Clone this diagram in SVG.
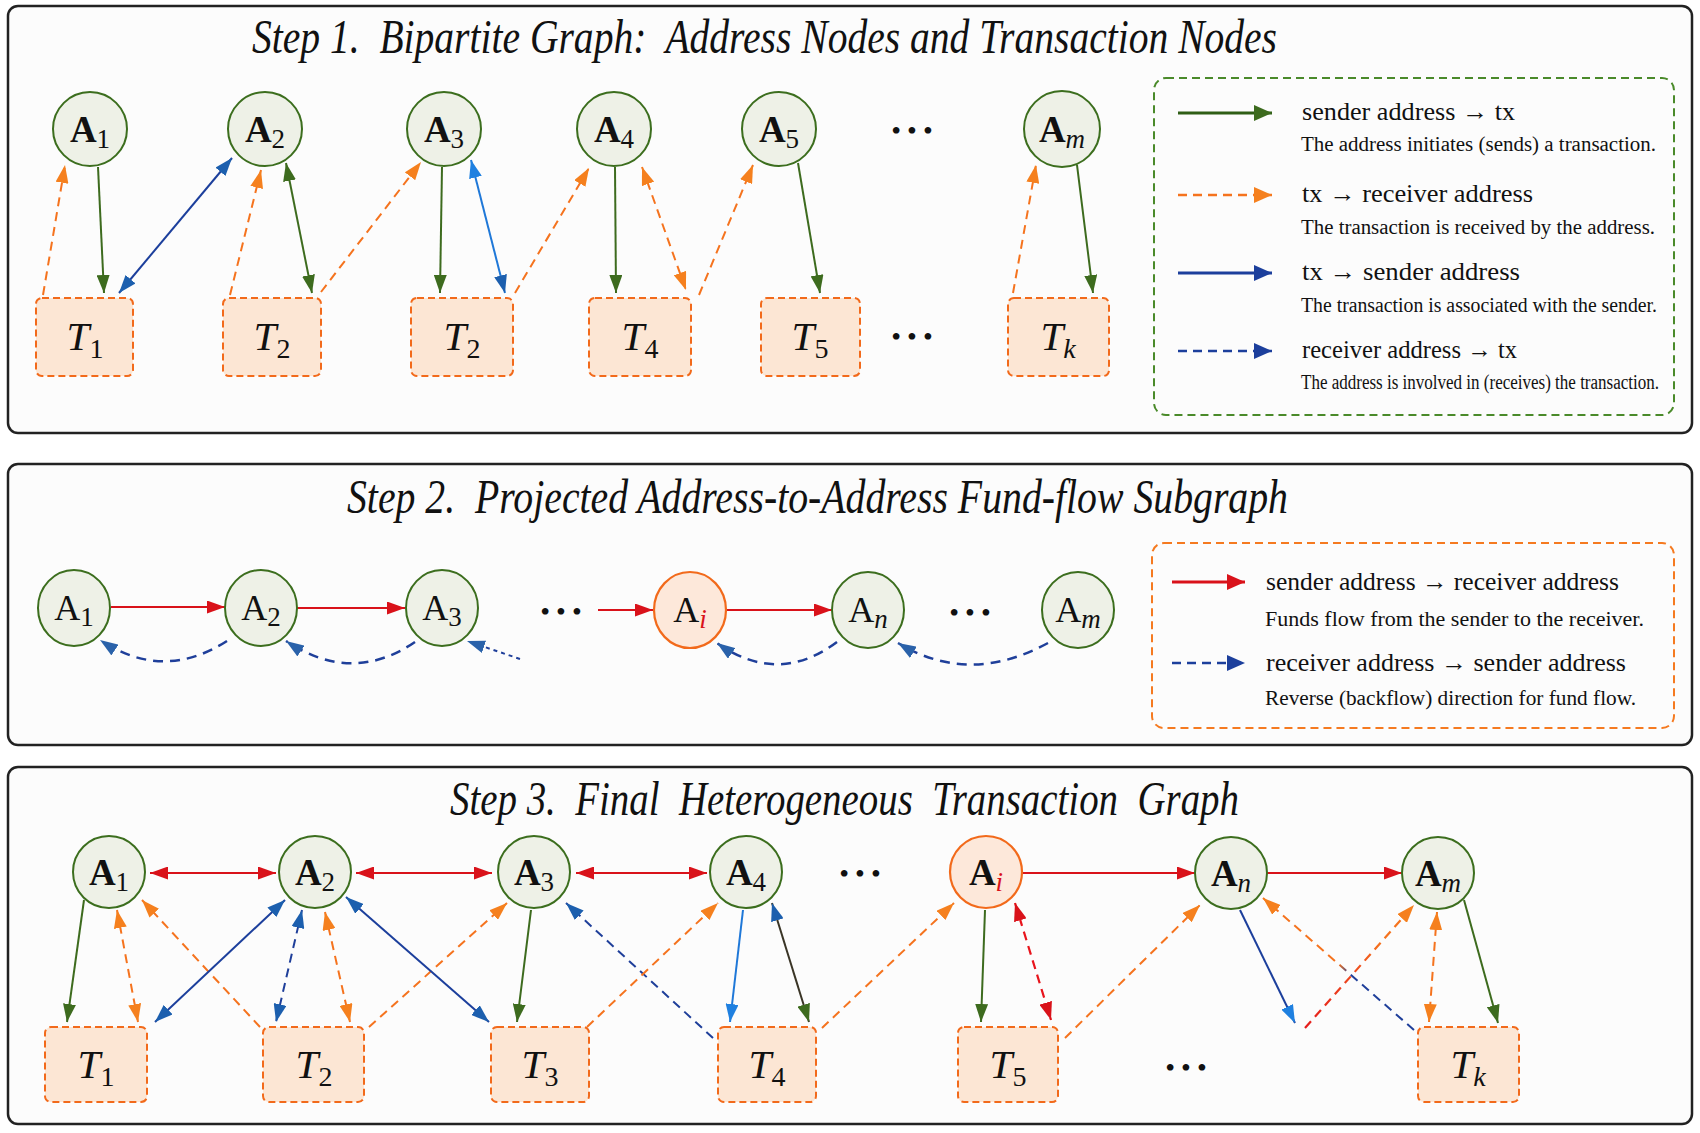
<svg xmlns="http://www.w3.org/2000/svg" width="1700" height="1133" viewBox="0 0 1700 1133">
<style>
.panel{fill:#fcfcfc;stroke:#222;stroke-width:2.5}
.title{font-family:"Liberation Serif","Times New Roman",serif;font-style:italic;font-size:48px;fill:#111}
.an{fill:#eef1e7;stroke:#3c6e1e;stroke-width:2}
.ai{fill:#fde8da;stroke:#f26a1b;stroke-width:2.2}
.tx{fill:#fce6d4;stroke:#f26a1b;stroke-width:2;stroke-dasharray:7,4}
.al{font-family:"Liberation Serif","Times New Roman",serif;font-size:37px;font-weight:bold;fill:#111}
.al2{font-family:"Liberation Serif","Times New Roman",serif;font-size:36px;fill:#111}
.sub{font-size:27px;font-weight:normal}
.tl{font-family:"Liberation Serif","Times New Roman",serif;font-size:41px;font-style:italic;fill:#111}
.tsub{font-size:28px;font-style:normal}
.it{font-style:italic}
.dots{font-family:"Liberation Serif","Times New Roman",serif;font-size:28px;letter-spacing:6px;fill:#111}
.lg{font-family:"Liberation Serif","Times New Roman",serif;font-size:25px;fill:#111}
.ld{font-family:"Liberation Serif","Times New Roman",serif;font-size:20px;fill:#111}
.g{stroke:#3d6b1e;stroke-width:2;fill:none}
.o{stroke:#f5731e;stroke-width:2;stroke-dasharray:9,6;fill:none}
.b{stroke:#1c3f9c;stroke-width:2;fill:none}
.lb{stroke:#1f78d8;stroke-width:2;fill:none}
.bd{stroke:#1f3f9a;stroke-width:2;stroke-dasharray:9,6;fill:none}
.r{stroke:#d9121a;stroke-width:2.2;fill:none}
.rd{stroke:#e8141c;stroke-width:2.2;stroke-dasharray:9,6;fill:none}
.bc{stroke:#1f3f9a;stroke-width:2.5;stroke-dasharray:10,7;fill:none}
</style>
<defs>
<marker id="ag" viewBox="0 0 18 13" refX="18" refY="6.5" markerWidth="18" markerHeight="13" markerUnits="userSpaceOnUse" orient="auto-start-reverse"><path d="M0,0 L18,6.5 L0,13 z" fill="#3d6b1e"/></marker>
<marker id="ao" viewBox="0 0 18 13" refX="18" refY="6.5" markerWidth="18" markerHeight="13" markerUnits="userSpaceOnUse" orient="auto-start-reverse"><path d="M0,0 L18,6.5 L0,13 z" fill="#f5801e"/></marker>
<marker id="ab" viewBox="0 0 18 13" refX="18" refY="6.5" markerWidth="18" markerHeight="13" markerUnits="userSpaceOnUse" orient="auto-start-reverse"><path d="M0,0 L18,6.5 L0,13 z" fill="#1c5fae"/></marker>
<marker id="alb" viewBox="0 0 18 13" refX="18" refY="6.5" markerWidth="18" markerHeight="13" markerUnits="userSpaceOnUse" orient="auto-start-reverse"><path d="M0,0 L18,6.5 L0,13 z" fill="#1f80e0"/></marker>
<marker id="ar" viewBox="0 0 18 13" refX="18" refY="6.5" markerWidth="18" markerHeight="13" markerUnits="userSpaceOnUse" orient="auto-start-reverse"><path d="M0,0 L18,6.5 L0,13 z" fill="#d9121a"/></marker>
<marker id="abc" viewBox="0 0 18 13" refX="18" refY="6.5" markerWidth="18" markerHeight="13" markerUnits="userSpaceOnUse" orient="auto-start-reverse"><path d="M0,0 L18,6.5 L0,13 z" fill="#2a62aa"/></marker>
<marker id="lgg" viewBox="0 0 18 16" refX="18" refY="8" markerWidth="18" markerHeight="16" markerUnits="userSpaceOnUse" orient="auto"><path d="M0,0 L18,8 L0,16 z" fill="#3d6b1e"/></marker>
<marker id="lgo" viewBox="0 0 18 16" refX="18" refY="8" markerWidth="18" markerHeight="16" markerUnits="userSpaceOnUse" orient="auto"><path d="M0,0 L18,8 L0,16 z" fill="#f5801e"/></marker>
<marker id="lgb" viewBox="0 0 18 16" refX="18" refY="8" markerWidth="18" markerHeight="16" markerUnits="userSpaceOnUse" orient="auto"><path d="M0,0 L18,8 L0,16 z" fill="#1c3f9c"/></marker>
<marker id="lgr" viewBox="0 0 18 16" refX="18" refY="8" markerWidth="18" markerHeight="16" markerUnits="userSpaceOnUse" orient="auto"><path d="M0,0 L18,8 L0,16 z" fill="#d9121a"/></marker>
<linearGradient id="gro" gradientUnits="userSpaceOnUse" x1="1305" y1="1028" x2="1414" y2="905"><stop offset="0" stop-color="#e51c1c"/><stop offset="0.45" stop-color="#ee4a1e"/><stop offset="0.7" stop-color="#f5731e"/></linearGradient>
<linearGradient id="gbo" gradientUnits="userSpaceOnUse" x1="1414" y1="1030" x2="1263" y2="898"><stop offset="0" stop-color="#1f3f9a"/><stop offset="0.42" stop-color="#1f3f9a"/><stop offset="0.5" stop-color="#f5731e"/><stop offset="1" stop-color="#f5731e"/></linearGradient>
</defs>
<rect width="1700" height="1133" fill="#ffffff"/>

<!-- Panels -->
<rect class="panel" x="8" y="6" width="1684" height="427" rx="10"/>
<rect class="panel" x="8" y="464" width="1684" height="281" rx="10"/>
<rect class="panel" x="8" y="767" width="1684" height="357" rx="10"/>

<text class="title" x="252" y="53" textLength="1025" lengthAdjust="spacingAndGlyphs" xml:space="preserve">Step 1.  Bipartite Graph:  Address Nodes and Transaction Nodes</text>
<text class="title" x="347" y="513" textLength="941" lengthAdjust="spacingAndGlyphs" xml:space="preserve">Step 2.  Projected Address-to-Address Fund-flow Subgraph</text>
<text class="title" x="450" y="815" textLength="789" lengthAdjust="spacingAndGlyphs" xml:space="preserve">Step 3.  Final  Heterogeneous  Transaction  Graph</text>

<!-- ===== Step 1 connectors ===== -->
<g id="connectors-step1">
<path class="g" d="M98,167 L104,293" marker-end="url(#ag)"/>
<path class="o" d="M43,295 L65,165" marker-end="url(#ao)"/>
<path class="b" d="M119,293 L232,158" marker-start="url(#ab)" marker-end="url(#ab)"/>
<path class="o" d="M230,295 L261,170" marker-end="url(#ao)"/>
<path class="g" d="M286,163 L312,293" marker-start="url(#ag)" marker-end="url(#ag)"/>
<path class="o" d="M321,292 L421,162" marker-end="url(#ao)"/>
<path class="g" d="M442,167 L440,293" marker-end="url(#ag)"/>
<path class="lb" d="M471,160 L505,293" marker-start="url(#alb)" marker-end="url(#ab)"/>
<path class="o" d="M515,293 L589,168" marker-end="url(#ao)"/>
<path class="g" d="M615,167 L616,293" marker-end="url(#ag)"/>
<path class="o" d="M642,167 L686,290" marker-start="url(#ao)" marker-end="url(#ao)"/>
<path class="o" d="M699,295 L753,165" marker-end="url(#ao)"/>
<path class="g" d="M798,163 L820,293" marker-end="url(#ag)"/>
<path class="o" d="M1013,293 L1036,165" marker-end="url(#ao)"/>
<path class="g" d="M1077,165 L1093,293" marker-end="url(#ag)"/>
</g>

<!-- ===== Step 1 nodes ===== -->
<g id="s1-A1"><circle class="an" cx="90" cy="129" r="37"/><text class="al" x="90" y="142" text-anchor="middle">A<tspan class="sub" dy="6">1</tspan></text></g>
<g id="s1-A2"><circle class="an" cx="265" cy="129" r="37"/><text class="al" x="265" y="142" text-anchor="middle">A<tspan class="sub" dy="6">2</tspan></text></g>
<g id="s1-A3"><circle class="an" cx="444" cy="129" r="37"/><text class="al" x="444" y="142" text-anchor="middle">A<tspan class="sub" dy="6">3</tspan></text></g>
<g id="s1-A4"><circle class="an" cx="614" cy="129" r="37"/><text class="al" x="614" y="142" text-anchor="middle">A<tspan class="sub" dy="6">4</tspan></text></g>
<g id="s1-A5"><circle class="an" cx="779" cy="129" r="37"/><text class="al" x="779" y="142" text-anchor="middle">A<tspan class="sub" dy="6">5</tspan></text></g>
<g id="s1-Am"><circle class="an" cx="1062" cy="129" r="38"/><text class="al" x="1062" y="142" text-anchor="middle">A<tspan class="sub it" dy="6">m</tspan></text></g>
<text class="dots" x="915" y="140" text-anchor="middle">•••</text>

<g id="s1-T1"><rect class="tx" x="36" y="298" width="97" height="78" rx="6"/><text class="tl" x="85" y="350" text-anchor="middle">T<tspan class="tsub" dy="8">1</tspan></text></g>
<g id="s1-T2"><rect class="tx" x="223" y="298" width="98" height="78" rx="6"/><text class="tl" x="272" y="350" text-anchor="middle">T<tspan class="tsub" dy="8">2</tspan></text></g>
<g id="s1-T2b"><rect class="tx" x="411" y="298" width="102" height="78" rx="6"/><text class="tl" x="462" y="350" text-anchor="middle">T<tspan class="tsub" dy="8">2</tspan></text></g>
<g id="s1-T4"><rect class="tx" x="589" y="298" width="102" height="78" rx="6"/><text class="tl" x="640" y="350" text-anchor="middle">T<tspan class="tsub" dy="8">4</tspan></text></g>
<g id="s1-T5"><rect class="tx" x="761" y="298" width="99" height="78" rx="6"/><text class="tl" x="810" y="350" text-anchor="middle">T<tspan class="tsub" dy="8">5</tspan></text></g>
<g id="s1-Tk"><rect class="tx" x="1008" y="298" width="101" height="78" rx="6"/><text class="tl" x="1058" y="350" text-anchor="middle">T<tspan class="tsub it" dy="8">k</tspan></text></g>
<text class="dots" x="915" y="346" text-anchor="middle">•••</text>

<!-- Legend 1 -->
<g id="legend1">
<rect x="1154" y="78" width="520" height="337" rx="12" fill="none" stroke="#4a8a2a" stroke-width="2" stroke-dasharray="8,5"/>
<path d="M1178,113 L1272,113" stroke="#2f5e16" stroke-width="3" marker-end="url(#lgg)"/>
<text class="lg" x="1302" y="120" textLength="213" lengthAdjust="spacingAndGlyphs">sender address → tx</text>
<text class="ld" x="1301" y="151" textLength="355" lengthAdjust="spacingAndGlyphs">The address initiates (sends) a transaction.</text>
<path d="M1178,195 L1272,195" stroke="#f5731e" stroke-width="2.5" stroke-dasharray="9,6" marker-end="url(#lgo)"/>
<text class="lg" x="1302" y="202" textLength="231" lengthAdjust="spacingAndGlyphs">tx → receiver address</text>
<text class="ld" x="1301" y="234" textLength="354" lengthAdjust="spacingAndGlyphs">The transaction is received by the address.</text>
<path d="M1178,273 L1272,273" stroke="#1c3f9c" stroke-width="3" marker-end="url(#lgb)"/>
<text class="lg" x="1302" y="280" textLength="218" lengthAdjust="spacingAndGlyphs">tx → sender address</text>
<text class="ld" x="1301" y="312" textLength="356" lengthAdjust="spacingAndGlyphs">The transaction is associated with the sender.</text>
<path d="M1178,351 L1272,351" stroke="#1c3f9c" stroke-width="2.5" stroke-dasharray="9,6" marker-end="url(#lgb)"/>
<text class="lg" x="1302" y="358" textLength="215" lengthAdjust="spacingAndGlyphs">receiver address → tx</text>
<text class="ld" x="1301" y="389" font-size="17" textLength="358" lengthAdjust="spacingAndGlyphs">The address is involved in (receives) the transaction.</text>
</g>

<!-- ===== Step 2 connectors ===== -->
<g id="connectors-step2">
<path class="r" d="M111,607 L225,607" marker-end="url(#ar)"/>
<path class="r" d="M297,608 L405,608" marker-end="url(#ar)"/>
<path class="r" d="M598,610 L653,610" marker-end="url(#ar)"/>
<path class="r" d="M726,610 L832,610" marker-end="url(#ar)"/>
<path class="bc" d="M227,641 Q163,682 100,640" marker-end="url(#abc)"/>
<path class="bc" d="M415,642 Q352,685 286,641" marker-end="url(#abc)"/>
<path d="M520,659 L467,641" stroke="#1f3f9a" stroke-width="2" stroke-dasharray="4,4" fill="none" marker-end="url(#abc)"/>
<path class="bc" d="M837,642 Q778,686 717,643" marker-end="url(#abc)"/>
<path class="bc" d="M1048,643 Q969,686 898,643" marker-end="url(#abc)"/>
</g>

<!-- ===== Step 2 nodes ===== -->
<g id="s2-A1"><ellipse class="an" cx="74" cy="608" rx="36" ry="38"/><text class="al2" x="74" y="620" text-anchor="middle">A<tspan class="sub" dy="6">1</tspan></text></g>
<g id="s2-A2"><ellipse class="an" cx="261" cy="608" rx="36" ry="38"/><text class="al2" x="261" y="620" text-anchor="middle">A<tspan class="sub" dy="6">2</tspan></text></g>
<g id="s2-A3"><ellipse class="an" cx="442" cy="608" rx="36" ry="38"/><text class="al2" x="442" y="620" text-anchor="middle">A<tspan class="sub" dy="6">3</tspan></text></g>
<g id="s2-Ai"><ellipse class="ai" cx="690" cy="610" rx="36" ry="38"/><text class="al2" x="690" y="622" text-anchor="middle">A<tspan class="sub it" dy="6" fill="#d9121a">i</tspan></text></g>
<g id="s2-An"><ellipse class="an" cx="868" cy="610" rx="36" ry="38"/><text class="al2" x="868" y="622" text-anchor="middle">A<tspan class="sub it" dy="6">n</tspan></text></g>
<g id="s2-Am"><ellipse class="an" cx="1078" cy="610" rx="36" ry="38"/><text class="al2" x="1078" y="622" text-anchor="middle">A<tspan class="sub it" dy="6">m</tspan></text></g>
<text class="dots" x="564" y="621" text-anchor="middle">•••</text>
<text class="dots" x="973" y="622" text-anchor="middle">•••</text>

<!-- Legend 2 -->
<g id="legend2">
<rect x="1152" y="543" width="522" height="185" rx="12" fill="none" stroke="#f57a20" stroke-width="2" stroke-dasharray="8,5"/>
<path d="M1172,582 L1245,582" stroke="#d9121a" stroke-width="3" marker-end="url(#lgr)"/>
<text class="lg" x="1266" y="590" textLength="353" lengthAdjust="spacingAndGlyphs">sender address → receiver address</text>
<text class="ld" x="1265" y="626" textLength="379" lengthAdjust="spacingAndGlyphs">Funds flow from the sender to the receiver.</text>
<path d="M1172,663 L1245,663" stroke="#1c3f9c" stroke-width="2.5" stroke-dasharray="9,6" marker-end="url(#lgb)"/>
<text class="lg" x="1266" y="671" textLength="360" lengthAdjust="spacingAndGlyphs">receiver address → sender address</text>
<text class="ld" x="1265" y="705" textLength="371" lengthAdjust="spacingAndGlyphs">Reverse (backflow) direction for fund flow.</text>
</g>

<!-- ===== Step 3 connectors ===== -->
<g id="connectors-step3">
<path class="r" d="M150,873 L276,873" marker-start="url(#ar)" marker-end="url(#ar)"/>
<path class="r" d="M356,873 L492,873" marker-start="url(#ar)" marker-end="url(#ar)"/>
<path class="r" d="M576,873 L707,873" marker-start="url(#ar)" marker-end="url(#ar)"/>
<path class="r" d="M1022,873 L1195,873" marker-end="url(#ar)"/>
<path class="r" d="M1267,873 L1402,873" marker-end="url(#ar)"/>
<path class="g" d="M84,900 L67,1022" marker-end="url(#ag)"/>
<path class="o" d="M117,910 L138,1022" marker-start="url(#ao)" marker-end="url(#ao)"/>
<path class="o" d="M260,1027 L142,900" marker-end="url(#ao)"/>
<path class="b" d="M155,1022 L285,900" marker-start="url(#ab)" marker-end="url(#ab)"/>
<path class="bd" d="M302,910 L276,1022" marker-start="url(#ab)" marker-end="url(#ab)"/>
<path class="o" d="M325,912 L350,1022" marker-start="url(#ao)" marker-end="url(#ao)"/>
<path class="o" d="M369,1027 L507,903" marker-end="url(#ao)"/>
<path class="b" d="M346,897 L489,1022" marker-start="url(#ab)" marker-end="url(#ab)"/>
<path class="g" d="M531,910 L517,1022" marker-end="url(#ag)"/>
<path class="bd" d="M713,1038 L566,903" marker-end="url(#ab)"/>
<path class="o" d="M587,1027 L718,903" marker-end="url(#ao)"/>
<path class="lb" d="M743,910 L730,1022" marker-end="url(#alb)"/>
<path d="M772,903 L809,1022" stroke="#3a3526" stroke-width="2" fill="none" marker-start="url(#ab)" marker-end="url(#ag)"/>
<path class="o" d="M822,1028 L954,903" marker-end="url(#ao)"/>
<path class="g" d="M985,910 L981,1022" marker-end="url(#ag)"/>
<path class="rd" d="M1015,903 L1051,1020" marker-start="url(#ar)" marker-end="url(#ar)"/>
<path class="o" d="M1065,1038 L1200,905" marker-end="url(#ao)"/>
<path class="b" d="M1240,910 L1295,1023" marker-end="url(#alb)"/>
<path d="M1305,1028 L1414,905" stroke="url(#gro)" stroke-width="2.2" stroke-dasharray="9,6" fill="none" marker-end="url(#ao)"/>
<path d="M1414,1030 L1263,898" stroke="url(#gbo)" stroke-width="2" stroke-dasharray="9,6" fill="none" marker-end="url(#ao)"/>
<path class="o" d="M1437,912 L1429,1022" marker-start="url(#ao)" marker-end="url(#ao)"/>
<path class="g" d="M1464,900 L1498,1023" marker-end="url(#ag)"/>
</g>

<!-- ===== Step 3 nodes ===== -->
<g id="s3-A1"><circle class="an" cx="109" cy="872" r="36"/><text class="al" x="109" y="885" text-anchor="middle">A<tspan class="sub" dy="6">1</tspan></text></g>
<g id="s3-A2"><circle class="an" cx="315" cy="872" r="36"/><text class="al" x="315" y="885" text-anchor="middle">A<tspan class="sub" dy="6">2</tspan></text></g>
<g id="s3-A3"><circle class="an" cx="534" cy="872" r="36"/><text class="al" x="534" y="885" text-anchor="middle">A<tspan class="sub" dy="6">3</tspan></text></g>
<g id="s3-A4"><circle class="an" cx="746" cy="872" r="36"/><text class="al" x="746" y="885" text-anchor="middle">A<tspan class="sub" dy="6">4</tspan></text></g>
<g id="s3-Ai"><circle class="ai" cx="986" cy="872" r="36"/><text class="al" x="986" y="885" text-anchor="middle">A<tspan class="sub it" dy="6" fill="#d9121a">i</tspan></text></g>
<g id="s3-An"><circle class="an" cx="1231" cy="873" r="36"/><text class="al" x="1231" y="886" text-anchor="middle">A<tspan class="sub it" dy="6">n</tspan></text></g>
<g id="s3-Am"><circle class="an" cx="1438" cy="873" r="36"/><text class="al" x="1438" y="886" text-anchor="middle">A<tspan class="sub it" dy="6">m</tspan></text></g>
<text class="dots" x="863" y="883" text-anchor="middle">•••</text>

<g id="s3-T1"><rect class="tx" x="45" y="1027" width="102" height="75" rx="6"/><text class="tl" x="96" y="1078" text-anchor="middle">T<tspan class="tsub" dy="8">1</tspan></text></g>
<g id="s3-T2"><rect class="tx" x="263" y="1027" width="101" height="75" rx="6"/><text class="tl" x="314" y="1078" text-anchor="middle">T<tspan class="tsub" dy="8">2</tspan></text></g>
<g id="s3-T3"><rect class="tx" x="491" y="1027" width="98" height="75" rx="6"/><text class="tl" x="540" y="1078" text-anchor="middle">T<tspan class="tsub" dy="8">3</tspan></text></g>
<g id="s3-T4"><rect class="tx" x="718" y="1027" width="98" height="75" rx="6"/><text class="tl" x="767" y="1078" text-anchor="middle">T<tspan class="tsub" dy="8">4</tspan></text></g>
<g id="s3-T5"><rect class="tx" x="958" y="1027" width="100" height="75" rx="6"/><text class="tl" x="1008" y="1078" text-anchor="middle">T<tspan class="tsub" dy="8">5</tspan></text></g>
<g id="s3-Tk"><rect class="tx" x="1418" y="1027" width="101" height="75" rx="6"/><text class="tl" x="1468" y="1078" text-anchor="middle">T<tspan class="tsub it" dy="8">k</tspan></text></g>
<text class="dots" x="1189" y="1077" text-anchor="middle">•••</text>
</svg>
